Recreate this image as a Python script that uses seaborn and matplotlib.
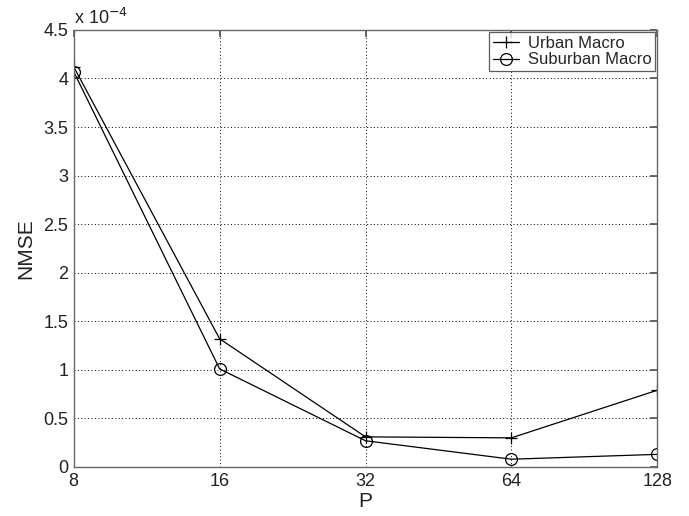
import pandas as pd
import matplotlib.pyplot as plt
import seaborn as sns
from matplotlib.ticker import FuncFormatter, FixedLocator

# Data (NMSE values)
p_values = [8, 16, 32, 64, 128]
urban_macro = [4.12e-4, 1.32e-4, 0.31e-4, 0.30e-4, 0.79e-4]
suburban_macro = [4.07e-4, 1.01e-4, 0.27e-4, 0.08e-4, 0.13e-4]

series = {"Urban Macro": (urban_macro, "+"), "Suburban Macro": (suburban_macro, "o")}

sns.set_theme(style="white")
plt.rcParams["font.family"] = ["Liberation Sans", "DejaVu Sans"]

fig = plt.figure(figsize=(6.89, 5.16), dpi=100)
ax = fig.add_axes([0.107, 0.095, 0.847, 0.847])

# One lineplot call per series (seaborn won't mix '+' and 'o' in one call)
for name, (vals, mk) in series.items():
    sns.lineplot(
        x=p_values, y=vals, color="black", label=name,
        marker=mk, linewidth=0.9, markersize=8.5,
        markerfacecolor="none", markeredgecolor="black", markeredgewidth=0.9,
        ax=ax,
    )

ax.set_xscale("log", base=2)
ax.set_xlim(8, 128)
ax.set_ylim(0, 4.5e-4)
ax.xaxis.set_major_locator(FixedLocator(p_values))
ax.xaxis.set_minor_locator(FixedLocator([]))
ax.xaxis.set_major_formatter(FuncFormatter(lambda v, pos: f"{v:g}"))
ax.yaxis.set_major_locator(FixedLocator([i * 0.5e-4 for i in range(10)]))
ax.yaxis.set_major_formatter(FuncFormatter(lambda v, pos: f"{v / 1e-4:g}"))

ax.grid(True, color="black", linestyle=(0, (1, 2.5)), linewidth=0.7)
ax.tick_params(direction="in", top=True, right=True, labelsize=13, length=5,
               color="#555555", labelcolor="#222222", pad=4)
for s in ax.spines.values():
    s.set_color("#666666")
    s.set_linewidth(1.0)

ax.set_xlabel("P", fontsize=15, color="#222222", labelpad=2)
ax.set_ylabel("NMSE", fontsize=15, color="#222222", labelpad=6)
ax.text(0.0, 1.005, r"x 10$^{-4}$", transform=ax.transAxes, fontsize=13,
        color="#222222", ha="left", va="bottom")

leg = ax.legend(loc="upper right", fontsize=12, frameon=True, fancybox=False,
                edgecolor="#333333", borderaxespad=0.15, handlelength=1.6,
                labelspacing=0.1, borderpad=0.2, handletextpad=0.5)
leg.get_frame().set_linewidth(0.9)

fig.savefig("out.png", dpi=100)
